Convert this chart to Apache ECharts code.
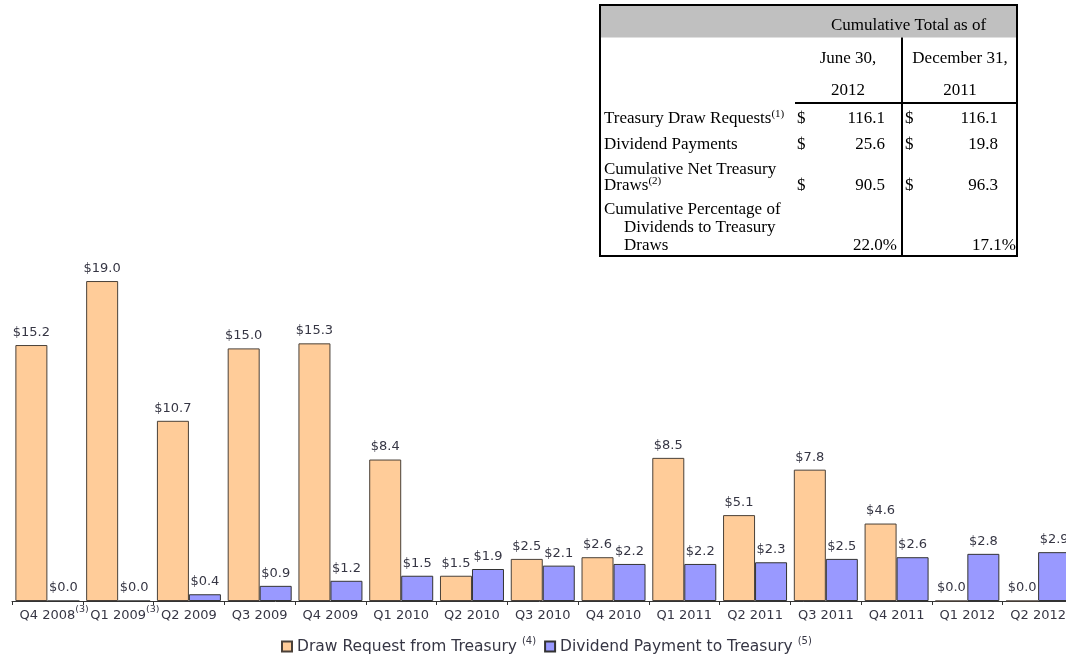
<!DOCTYPE html>
<html>
<head>
<meta charset="utf-8">
<script src="https://cdn.jsdelivr.net/npm/echarts@6/dist/echarts.min.js"></script>
<style>
  html, body { margin: 0; padding: 0; background: #ffffff; }
  #chart { width: 1066px; height: 657px; }
</style>
</head>
<body>
<div id="chart"></div>
<script>
// Quarterly Treasury draws and dividend payments ($ billions)
const quarters = ['Q4 2008', 'Q1 2009', 'Q2 2009', 'Q3 2009', 'Q4 2009', 'Q1 2010', 'Q2 2010',
  'Q3 2010', 'Q4 2010', 'Q1 2011', 'Q2 2011', 'Q3 2011', 'Q4 2011', 'Q1 2012', 'Q2 2012'];
const quarterNotes = ['(3)', '(3)', '', '', '', '', '', '', '', '', '', '', '', '', ''];
const drawRequests = [15.2, 19.0, 10.7, 15.0, 15.3, 8.4, 1.5, 2.5, 2.6, 8.5, 5.1, 7.8, 4.6, 0.0, 0.0];
const dividendPayments = [0.0, 0.0, 0.4, 0.9, 1.2, 1.5, 1.9, 2.1, 2.2, 2.2, 2.3, 2.5, 2.6, 2.8, 2.9];
const seriesNames = ['Draw Request from Treasury', 'Dividend Payment to Treasury'];
const seriesNotes = ['(4)', '(5)'];

// Cumulative summary table
const tableTitle = 'Cumulative Total as of';
const columnHeads = [['June 30,', '2012'], ['December 31,', '2011']];
const rowLabels = [
  ['Treasury Draw Requests'],
  ['Dividend Payments'],
  ['Cumulative Net Treasury', 'Draws'],
  ['Cumulative Percentage of', 'Dividends to Treasury', 'Draws']
];
const rowNotes = ['(1)', '', '(2)', ''];
const juneValues = [116.1, 25.6, 90.5];
const decemberValues = [116.1, 19.8, 96.3];
const percentValues = [22.0, 17.1];

const SANS = 'DejaVu Sans';
const SERIF = 'Liberation Serif';
const TEXT = '#363644';

// ---- table layout ----
const T = { left: 600, top: 5, right: 1017, bottom: 256, headBottom: 37.5, split: 902, ruleY: 103, ruleX: 795 };
const rowLineY = [[118.5], [144.5], [169.5, 185.5], [209.5, 227.5, 245.5]];
const labelX = 604, indentX = 624;
const colHeadX = [848, 960];
const colHeadY = [58.5, 90.5];
const titleY = 26;
const dollarX = [797, 905];
const valueRightX = [885, 998];
const percentRightX = [897, 1016];

const supRich = { s: { fontFamily: SERIF, fontSize: 11, lineHeight: 11, verticalAlign: 'top', fill: '#000' } };

function serifText(text, x, y, align) {
  return {
    type: 'text', x: x, y: y, silent: true,
    style: {
      text: text, fill: '#000', fontFamily: SERIF, fontSize: 17, lineHeight: 19,
      align: align || 'left', verticalAlign: 'middle', rich: supRich
    }
  };
}

const graphics = [];
graphics.push({ type: 'rect', shape: { x: T.left, y: T.top, width: T.right - T.left, height: T.bottom - T.top },
  style: { fill: '#ffffff', stroke: '#000', lineWidth: 2 }, silent: true });
graphics.push({ type: 'rect', shape: { x: T.left + 1, y: T.top + 1, width: T.right - T.left - 2, height: T.headBottom - T.top - 1 },
  style: { fill: '#c0c0c0' }, silent: true });
graphics.push({ type: 'line', shape: { x1: T.split, y1: T.headBottom, x2: T.split, y2: T.bottom },
  style: { stroke: '#000', lineWidth: 2 }, silent: true });
graphics.push({ type: 'line', shape: { x1: T.ruleX, y1: T.ruleY, x2: T.right, y2: T.ruleY },
  style: { stroke: '#000', lineWidth: 2 }, silent: true });
graphics.push(serifText(tableTitle, 908.5, titleY, 'center'));
columnHeads.forEach(function (lines, c) {
  lines.forEach(function (line, k) { graphics.push(serifText(line, colHeadX[c], colHeadY[k], 'center')); });
});
rowLabels.forEach(function (lines, r) {
  lines.forEach(function (line, k) {
    const last = k === lines.length - 1;
    const text = line + (last && rowNotes[r] ? '{s|' + rowNotes[r] + '}' : '');
    const x = (r === 3 && k > 0) ? indentX : labelX;
    graphics.push(serifText(text, x, rowLineY[r][k]));
  });
});
[juneValues, decemberValues].forEach(function (vals, c) {
  vals.forEach(function (v, r) {
    const y = rowLineY[r][rowLineY[r].length - 1];
    graphics.push(serifText('$', dollarX[c], y));
    graphics.push(serifText(v.toFixed(1), valueRightX[c], y, 'right'));
  });
  const py = rowLineY[3][rowLineY[3].length - 1];
  graphics.push(serifText(percentValues[c].toFixed(1) + '%', percentRightX[c], py, 'right'));
});

// ---- chart ----
const chart = echarts.init(document.getElementById('chart'), null, { renderer: 'canvas' });

const barLabel = {
  show: true, position: 'top', distance: 6,
  fontFamily: SANS, fontSize: 13, color: TEXT,
  formatter: function (p) { return '$' + Number(p.value).toFixed(1); }
};

chart.setOption({
  animation: false,
  backgroundColor: '#ffffff',
  grid: { left: 12, top: 264.2, width: 1061.5, height: 336.8, containLabel: false, outerBoundsMode: 'none' },
  legend: {
    left: 281, top: 636, padding: 0,
    icon: 'rect', itemWidth: 10, itemHeight: 10, itemGap: 8,
    data: seriesNames,
    formatter: function (name) { return name + ' {sup|' + seriesNotes[seriesNames.indexOf(name)] + '}'; },
    textStyle: {
      fontFamily: SANS, fontSize: 15.5, color: TEXT, lineHeight: 21,
      rich: { sup: { fontFamily: SANS, fontSize: 10, lineHeight: 10, verticalAlign: 'top', color: TEXT } }
    }
  },
  xAxis: {
    type: 'category',
    data: quarters,
    axisLine: { lineStyle: { color: '#333', width: 1 } },
    axisTick: { show: true, length: 4, alignWithLabel: false, lineStyle: { color: '#333' } },
    axisLabel: {
      interval: 0, margin: 4,
      fontFamily: SANS, fontSize: 13, color: TEXT, lineHeight: 22,
      formatter: function (v, i) {
        const n = quarterNotes[i];
        return n ? '{pad|' + n + '}' + v + '{sup|' + n + '}' : v;
      },
      rich: {
        sup: { fontFamily: SANS, fontSize: 9.5, lineHeight: 9, verticalAlign: 'top', color: TEXT },
        pad: { fontFamily: SANS, fontSize: 9.5, lineHeight: 9, verticalAlign: 'top', color: 'rgba(0,0,0,0)' }
      }
    }
  },
  yAxis: { type: 'value', min: 0, max: 20, show: false, splitLine: { show: false } },
  series: [
    {
      name: seriesNames[0], type: 'bar', data: drawRequests,
      barWidth: 32, barGap: '0%',
      itemStyle: { color: '#FFCC99', borderColor: '#4a4038', borderWidth: 1 },
      label: barLabel
    },
    {
      name: seriesNames[1], type: 'bar', data: dividendPayments,
      barWidth: 32, barGap: '0%',
      itemStyle: { color: '#9999FF', borderColor: '#333333', borderWidth: 1 },
      label: barLabel
    }
  ],
  graphic: graphics
});
</script>
</body>
</html>
